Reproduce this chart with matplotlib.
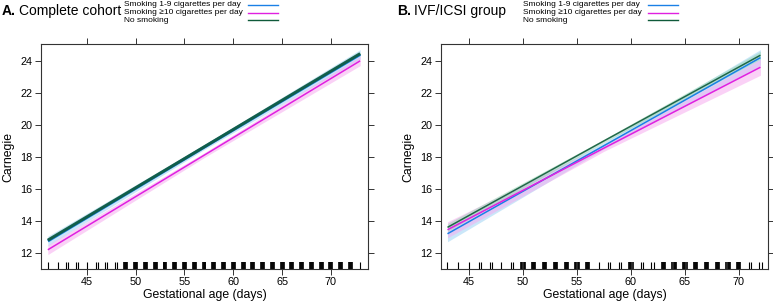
import numpy as np
import matplotlib
matplotlib.use("Agg")
from matplotlib import pyplot as plt
from matplotlib.lines import Line2D

plt.rcParams['font.family'] = ['Liberation Sans', 'DejaVu Sans']

groups = ["Smoking 1-9 cigarettes per day", "Smoking \u226510 cigarettes per day", "No smoking"]
colors = ["#1a80e6", "#e020e0", "#0f5a3a"]
band_colors = ["#a0d4f5", "#f7acf0", "#9fd8b8"]

# panel A: complete cohort (fit read at start, middle, end day)
a_days = [41, 57, 73]
a_fit = [[12.75, 18.6, 24.4], [12.2, 18.1, 24.0], [12.8, 18.62, 24.45]]
a_lo = [[12.45, 18.45, 24.1], [11.9, 17.95, 23.7], [12.72, 18.58, 24.37]]
a_hi = [[13.05, 18.75, 24.7], [12.5, 18.25, 24.3], [12.88, 18.66, 24.53]]
a_rug_days = list(range(41, 74))
a_rug_counts = [1, 1, 2, 2, 1, 2, 2, 2] + [3] * 24 + [1]

# panel B: IVF/ICSI group
b_days = [43, 57.5, 72]
b_fit = [[13.2, 18.7, 24.2], [13.45, 18.55, 23.6], [13.6, 19.0, 24.35]]
b_lo = [[12.7, 18.5, 23.7], [12.95, 18.35, 23.1], [13.35, 18.9, 24.1]]
b_hi = [[13.7, 18.9, 24.7], [13.95, 18.75, 24.1], [13.85, 19.1, 24.6]]
b_rug_days = list(range(43, 73))
b_rug_counts = [1, 1, 1, 2, 2, 1, 2] + [3] * 7 + [1, 2, 2, 3, 2, 2] + [3] * 8 + [2, 2]

fig = plt.figure(figsize=(7.73, 3.03), dpi=100)
axA = fig.add_axes([41 / 773, 1 - 269 / 303, 327 / 773, 225 / 303])
axB = fig.add_axes([441 / 773, 1 - 269 / 303, 327 / 773, 225 / 303])


def draw_panel(ax, days, fit, lo, hi, rug_days, rug_counts, xlim, main_lw):
    for i in range(3):
        ax.fill_between(days, lo[i], hi[i], color=band_colors[i], alpha=0.55, lw=0)
    for i in range(3):
        lw = main_lw if i != 1 else 1.1
        ax.plot(days, fit[i], color=colors[i], lw=lw, solid_capstyle='butt', alpha=0.9 if i == 2 else 1)
    trans = ax.get_xaxis_transform()
    for d, c in zip(rug_days, rug_counts):
        if c == 1:
            offs = [0]
        elif c == 2:
            offs = [-0.1, 0.1]
        else:
            offs = [-0.15, -0.05, 0.05, 0.15]
        for o in offs:
            ax.vlines(d + o, 0, 0.032, transform=trans, color='black', lw=0.8 if c < 3 else 1.2)
    ax.set_xlim(*xlim)
    ax.set_ylim(11.0, 25.05)
    ax.set_xticks([45, 50, 55, 60, 65, 70])
    ax.set_yticks([12, 14, 16, 18, 20, 22, 24])
    ax.tick_params(direction='out', length=4, width=0.7, labelsize=7.8, color='#333333',
                   top=True, right=True, labeltop=False, labelright=False, pad=2)
    for s in ax.spines.values():
        s.set_linewidth(0.8)
        s.set_color('#333333')
    ax.set_xlabel("Gestational age (days)", fontsize=8.8, labelpad=1)
    ax.set_ylabel("Carnegie", fontsize=8.8, labelpad=4)


draw_panel(axA, a_days, a_fit, a_lo, a_hi, a_rug_days, a_rug_counts, (40.3, 73.8), 2.2)
draw_panel(axB, b_days, b_fit, b_lo, b_hi, b_rug_days, b_rug_counts, (42.4, 72.7), 1.1)

# titles: bold letter followed by normal text
fig.canvas.draw()
renderer = fig.canvas.get_renderer()
for x0, letter, rest in [(2, "A.", "Complete cohort"), (397, "B.", "IVF/ICSI group")]:
    t = fig.text(x0 / 773, 1 - 11 / 303, letter, fontsize=10, fontweight='bold', va='center', ha='left')
    w = t.get_window_extent(renderer).width
    fig.text((x0 + w + 3) / 773, 1 - 11 / 303, rest, fontsize=10, va='center', ha='left')

# legends
for x_text, x_line in [(124, 248), (523, 648)]:
    for i, g in enumerate(groups):
        yy = 1 - (5 + 7.6 * i) / 303
        fig.text(x_text / 773, yy, g, fontsize=6.0, va='center', ha='left')
        fig.add_artist(Line2D([x_line / 773, (x_line + 30) / 773], [yy, yy],
                              transform=fig.transFigure, color=colors[i], lw=1.0))

fig.savefig("out.png", dpi=100)
